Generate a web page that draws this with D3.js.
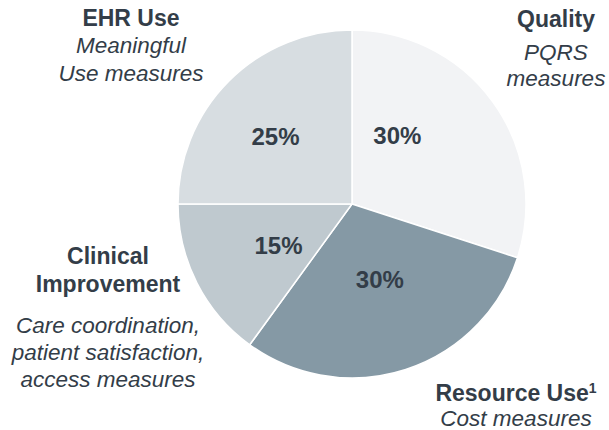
<!DOCTYPE html>
<html>
<head>
<meta charset="utf-8">
<script src="https://cdn.jsdelivr.net/npm/d3@7"></script>
<style>
  body { margin: 0; background: #fff; }
  text { font-family: "Liberation Sans", Arial, sans-serif; fill: #333d48; }
</style>
</head>
<body>
<div id="chart"></div>
<script>
const categories = ["Quality", "Resource Use", "Clinical Improvement", "EHR Use"];
const shares = [30, 30, 15, 25];
const pctLabels = ["30%", "30%", "15%", "25%"];
const sliceColors = ["#f2f3f5", "#8599a5", "#bfc9cf", "#d7dde1"];

const width = 609, height = 430;
const cx = 352, cy = 204, radius = 174;

const svg = d3.select("#chart").append("svg")
    .attr("width", width)
    .attr("height", height);

const pie = d3.pie().sort(null).value(d => d);
const arcs = pie(shares);
const arc = d3.arc().innerRadius(0).outerRadius(radius);

const g = svg.append("g").attr("transform", `translate(${cx},${cy})`);

g.selectAll("path")
    .data(arcs)
    .enter()
    .append("path")
    .attr("d", arc)
    .attr("fill", (d, i) => sliceColors[i])
    .attr("stroke", "#fff")
    .attr("stroke-width", 1.5);

// percentage labels inside slices, nudged from the centroid like the original
const labelArc = d3.arc().innerRadius(radius * 0.5).outerRadius(radius * 0.5);
const pctOffsets = [[-25, -17], [1, -7], [4, 2], [-15, -6]];
g.selectAll("text.pct")
    .data(arcs)
    .enter()
    .append("text")
    .attr("class", "pct")
    .attr("text-anchor", "middle")
    .attr("x", (d, i) => labelArc.centroid(d)[0] + pctOffsets[i][0])
    .attr("y", (d, i) => labelArc.centroid(d)[1] + pctOffsets[i][1] + 8.5)
    .style("font-size", "24px")
    .style("font-weight", "bold")
    .text((d, i) => pctLabels[i]);

// outer labels: title lines (bold) and description lines (italic)
const titleLines = [["Quality"], ["Resource Use"], ["Clinical", "Improvement"], ["EHR Use"]];
const descLines = [["PQRS", "measures"], ["Cost measures"], ["Care coordination,", "patient satisfaction,", "access measures"], ["Meaningful", "Use measures"]];
const blockPos = [
    { x: 556, titleY: [27], descY: [60, 86] },
    { x: 516, titleY: [401], descY: [426] },
    { x: 108, titleY: [264, 292], descY: [333, 360, 387] },
    { x: 131, titleY: [26], descY: [53, 81] }
];

categories.forEach((c, i) => {
    const p = blockPos[i];
    titleLines[i].forEach((line, j) => {
        const t = svg.append("text")
            .attr("x", p.x)
            .attr("y", p.titleY[j])
            .attr("text-anchor", "middle")
            .style("font-size", "23px")
            .style("font-weight", "bold")
            .text(line);
        if (c === "Resource Use") {
            t.append("tspan")
                .attr("dy", -8)
                .style("font-size", "14px")
                .text("1");
        }
    });
    descLines[i].forEach((line, j) => {
        svg.append("text")
            .attr("x", p.x)
            .attr("y", p.descY[j])
            .attr("text-anchor", "middle")
            .style("font-size", "22.5px")
            .style("font-style", "italic")
            .text(line);
    });
});
</script>
</body>
</html>
